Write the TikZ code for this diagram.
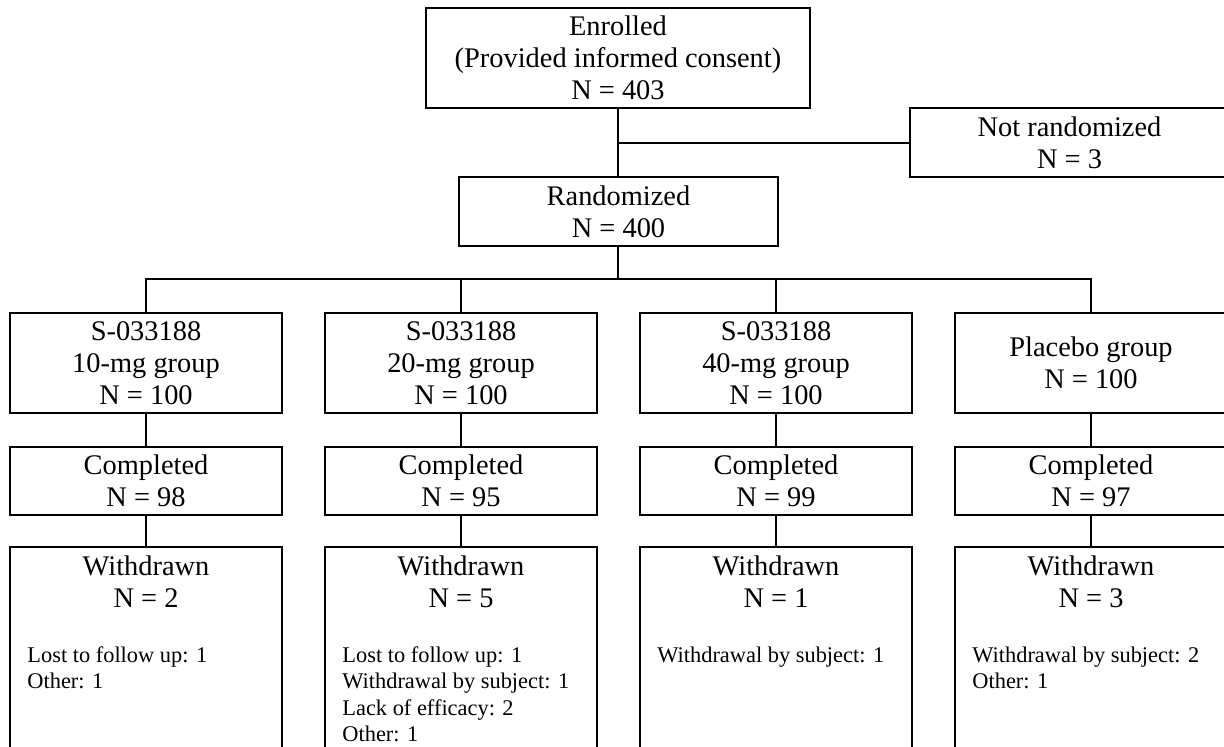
\documentclass[tikz,border=0pt]{standalone}
\usepackage{fontspec}
\setmainfont{Liberation Serif}
\newcommand\mainsz{\fontsize{14.2pt}{16pt}\selectfont}
\newcommand\smallsz{\fontsize{11.2pt}{13.25pt}\selectfont}
\begin{document}
\begin{tikzpicture}[x=0.5pt,y=-0.5pt,
  box/.style={draw=black, line width=1.25pt, inner sep=0pt, align=center, font=\mainsz},
  colbox/.style={box, minimum width=136pt},
  conn/.style={draw=black, line width=1.25pt},
  ttl/.style={inner sep=0pt, align=center, font=\mainsz},
  detail/.style={inner sep=0pt, anchor=base west, font=\smallsz}]
\useasboundingbox (0,0) rectangle (1224,746);
\clip (0,0) rectangle (1224,746);

% top part
\node[box, minimum width=192pt, minimum height=50pt] (enr) at (618,58) {Enrolled\\(Provided informed consent)\\N = 403};
\node[box, minimum width=159.5pt, minimum height=34.5pt] (nr) at (1069.5,142.5) {Not randomized\\N = 3};
\node[box, minimum width=159.5pt, minimum height=34.5pt] (rand) at (618.5,211.5) {Randomized\\N = 400};
\coordinate (j1) at (618,143);
\draw[conn] (enr.south) -- (enr.south |- rand.north);
\draw[conn] (j1) -- (nr.west |- j1);

% group boxes
\node[colbox, minimum height=50pt] (g1) at (146,363) {S-033188\\10-mg group\\N = 100};
\node[colbox, minimum height=50pt] (g2) at (461,363) {S-033188\\20-mg group\\N = 100};
\node[colbox, minimum height=50pt] (g3) at (776,363) {S-033188\\40-mg group\\N = 100};
\node[colbox, minimum height=50pt] (g4) at (1091,363) {Placebo group\\N = 100};

% branch
\coordinate (bar) at (618,279);
\draw[conn] (enr.south |- rand.south) -- (bar);
\draw[conn] (g1.north) -- (g1.north |- bar) -- (g4.north |- bar) -- (g4.north);
\draw[conn] (g2.north) -- (g2.north |- bar);
\draw[conn] (g3.north) -- (g3.north |- bar);

% completed boxes
\node[colbox, minimum height=34pt] (c1) at (146,481) {Completed\\N = 98};
\node[colbox, minimum height=34pt] (c2) at (461,481) {Completed\\N = 95};
\node[colbox, minimum height=34pt] (c3) at (776,481) {Completed\\N = 99};
\node[colbox, minimum height=34pt] (c4) at (1091,481) {Completed\\N = 97};

% withdrawn boxes
\node[colbox, minimum height=136.5pt] (w1) at (146,683.5) {};
\node[colbox, minimum height=136.5pt] (w2) at (461,683.5) {};
\node[colbox, minimum height=136.5pt] (w3) at (776,683.5) {};
\node[colbox, minimum height=136.5pt] (w4) at (1091,683.5) {};

\foreach \i in {1,2,3,4}{
  \draw[conn] (g\i.south) -- (c\i.north);
  \draw[conn] (c\i.south) -- (w\i.north);
}

\node[ttl] (wt1) at (146,582) {Withdrawn\\N = 2};
\node[ttl] (wt2) at (461,582) {Withdrawn\\N = 5};
\node[ttl] (wt3) at (776,582) {Withdrawn\\N = 1};
\node[ttl] (wt4) at (1091,582) {Withdrawn\\N = 3};

\node[detail] (d1) at (27,662) {\begin{tabular}[t]{@{}l@{}}Lost to follow up: 1\\Other: 1\end{tabular}};
\node[detail] (d2) at (342,662) {\begin{tabular}[t]{@{}l@{}}Lost to follow up: 1\\Withdrawal by subject: 1\\Lack of efficacy: 2\\Other: 1\end{tabular}};
\node[detail] (d3) at (657,662) {\begin{tabular}[t]{@{}l@{}}Withdrawal by subject: 1\end{tabular}};
\node[detail] (d4) at (972,662) {\begin{tabular}[t]{@{}l@{}}Withdrawal by subject: 2\\Other: 1\end{tabular}};
\end{tikzpicture}
\end{document}
